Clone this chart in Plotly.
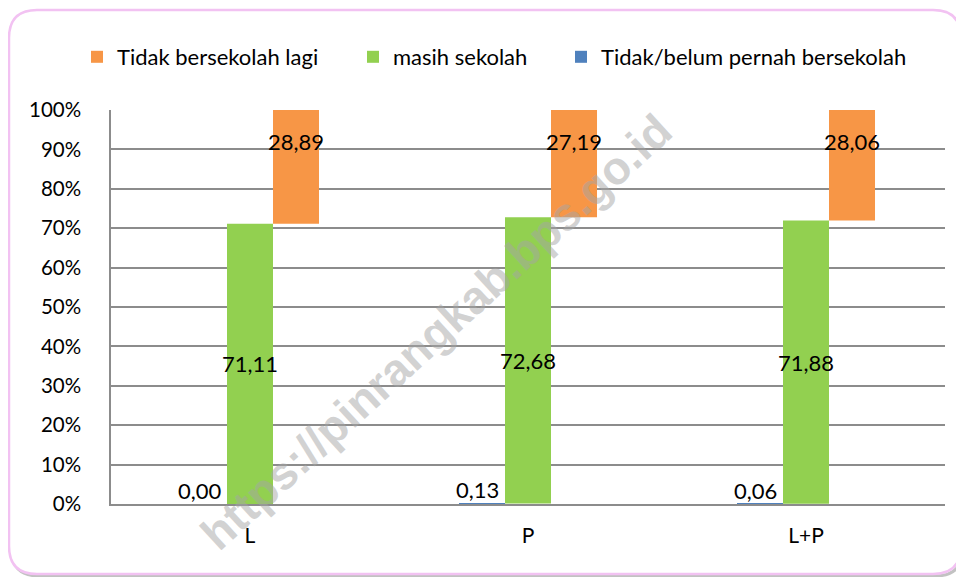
import plotly.graph_objects as go

categories = ["L", "P", "L+P"]
belum_sekolah = [0.00, 0.13, 0.06]
masih_sekolah = [71.11, 72.68, 71.88]
tidak_lagi = [28.89, 27.19, 28.06]
y_ticks = [0, 10, 20, 30, 40, 50, 60, 70, 80, 90, 100]
y_ticklabels = [f"{v}%" for v in y_ticks]

def fmt(v):
    return f"{v:.2f}".replace(".", ",")

# page body has an 8px margin: work in figure coords = screenshot coords - 8
OFF = 8
W, H = 964 - OFF, 577 - OFF
ML, MR, MT, MB = 111 - OFF, 19, 110 - OFF, 73
PW, PH = W - ML - MR, H - MT - MB

def px(x):
    return (x - OFF - ML) / PW

def py(y):
    return (H - MB - (y - OFF)) / PH

xpos = list(range(len(categories)))
bw = 0.1655
font = "Lato"

fig = go.Figure()
green_base = belum_sekolah
orange_base = [a + b for a, b in zip(belum_sekolah, masih_sekolah)]

fig.add_trace(go.Bar(
    x=xpos, y=tidak_lagi, base=orange_base, width=bw, offset=0.5 * bw,
    marker=dict(color="#F79646", line=dict(width=0)), name="Tidak bersekolah lagi",
    legend="legend",
))
fig.add_trace(go.Bar(
    x=xpos, y=masih_sekolah, base=green_base, width=bw, offset=-0.5 * bw,
    marker=dict(color="#92D050", line=dict(width=0)), name="masih sekolah",
    legend="legend2",
))
fig.add_trace(go.Bar(
    x=xpos, y=belum_sekolah, base=[0] * 3, width=bw, offset=-1.5 * bw,
    marker=dict(color="#4F81BD", line=dict(width=0)), name="Tidak/belum pernah bersekolah",
    legend="legend3",
))

lab_font = dict(family=font, size=22, color="black")
for i in xpos:
    fig.add_annotation(x=i + bw, y=orange_base[i] + tidak_lagi[i], text=fmt(tidak_lagi[i]),
                       yanchor="top", yshift=-16, showarrow=False, font=lab_font)
    fig.add_annotation(x=i, y=green_base[i] + masih_sekolah[i] / 2, text=fmt(masih_sekolah[i]),
                       yanchor="middle", showarrow=False, font=lab_font)
    fig.add_annotation(x=i - bw, y=belum_sekolah[i], text=fmt(belum_sekolah[i]),
                       yanchor="bottom", yshift=-2, xshift=-4, showarrow=False, font=lab_font)

# watermark
fig.add_annotation(x=px(436), y=py(332), xref="paper", yref="paper",
                   text="<b>https://pinrangkab.bps.go.id</b>", textangle=-42.5,
                   showarrow=False,
                   font=dict(family="Liberation Sans", size=46, color="rgba(165,165,165,0.5)"))

# rounded border with faint shadow
def rounded(x0, y0, x1, y1, r):
    def P(x, y):
        return f"{px(x):.5f},{py(y):.5f}"
    return (f"M {P(x0 + r, y0)} L {P(x1 - r, y0)} Q {P(x1, y0)} {P(x1, y0 + r)} "
            f"L {P(x1, y1 - r)} Q {P(x1, y1)} {P(x1 - r, y1)} "
            f"L {P(x0 + r, y1)} Q {P(x0, y1)} {P(x0, y1 - r)} "
            f"L {P(x0, y0 + r)} Q {P(x0, y0)} {P(x0 + r, y0)} Z")

fig.add_shape(type="path", path=rounded(11, 13, 963, 576, 28), xref="paper", yref="paper",
              line=dict(color="rgba(120,120,120,0.45)", width=3), layer="below")
fig.add_shape(type="path", path=rounded(9, 10, 961, 574, 28), xref="paper", yref="paper",
              line=dict(color="#F2C2F2", width=2.5), fillcolor="white", layer="below")

leg_common = dict(orientation="h", xanchor="left", yanchor="middle", y=py(57),
                  font=dict(family=font, size=22, color="black"),
                  itemwidth=30, bgcolor="rgba(0,0,0,0)")

fig.update_layout(
    width=W, height=H,
    margin=dict(l=ML, r=MR, t=MT, b=MB),
    paper_bgcolor="white", plot_bgcolor="rgba(0,0,0,0)",
    barmode="overlay",
    font=dict(family=font, size=21, color="black"),
    showlegend=True,
    legend=dict(x=px(77), **leg_common),
    legend2=dict(x=px(353), **leg_common),
    legend3=dict(x=px(561), **leg_common),
    xaxis=dict(range=[-0.5, 2.5], tickmode="array", tickvals=xpos, ticktext=categories,
               showgrid=False, zeroline=False, showline=True, linecolor="#8C8C8C", linewidth=1.5,
               ticks="", ticklabelstandoff=12, tickfont=dict(size=21)),
    yaxis=dict(range=[0, 100], tickmode="array", tickvals=y_ticks, ticktext=y_ticklabels,
               showgrid=True, gridcolor="#8C8C8C", gridwidth=1.5, zeroline=False,
               showline=True, linecolor="#8C8C8C", linewidth=1.5,
               ticks="", ticklabelstandoff=24, tickfont=dict(size=20.5)),
)

fig.write_html("out.html")
